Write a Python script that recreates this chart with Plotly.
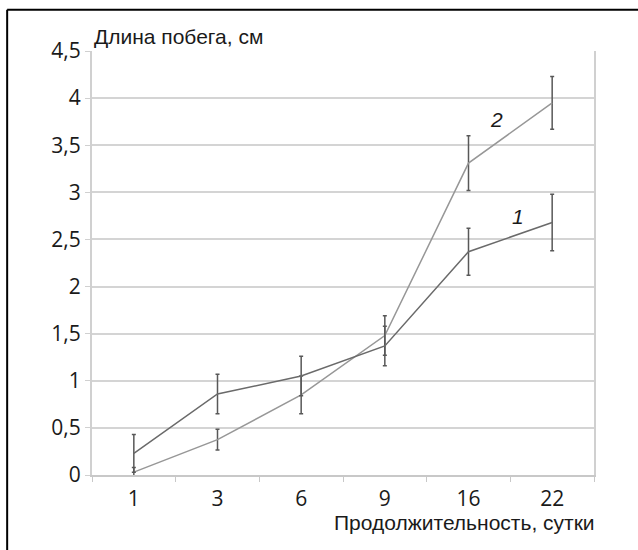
import plotly.graph_objects as go

days = ["1", "3", "6", "9", "16", "22"]
series1 = [0.23, 0.86, 1.05, 1.37, 2.37, 2.68]
err1 = [0.20, 0.21, 0.21, 0.21, 0.25, 0.30]
series2 = [0.03, 0.375, 0.85, 1.48, 3.31, 3.95]
err2 = [0.05, 0.11, 0.20, 0.21, 0.29, 0.28]
y_ticks = [0, 0.5, 1, 1.5, 2, 2.5, 3, 3.5, 4, 4.5]
y_labels = ["0", "0,5", "1", "1,5", "2", "2,5", "3", "3,5", "4", "4,5"]

fig = go.Figure()
fig.add_trace(go.Scatter(
    x=days, y=series2, mode="lines",
    line=dict(color="#979797", width=1.5),
    error_y=dict(type="data", array=err2, color="#585858", thickness=1.5, width=2),
    showlegend=False, hoverinfo="skip"))
fig.add_trace(go.Scatter(
    x=days, y=series1, mode="lines",
    line=dict(color="#6a6a6a", width=1.5),
    error_y=dict(type="data", array=err1, color="#585858", thickness=1.5, width=2),
    showlegend=False, hoverinfo="skip"))

fig.update_layout(
    width=638, height=550,
    margin=dict(l=92, r=44, t=51, b=75),
    paper_bgcolor="white", plot_bgcolor="white",
    font=dict(family="Open Sans", size=20, color="#1a1a1a"),
    xaxis=dict(type="category", tickson="boundaries", ticks="outside", ticklen=5,
               tickcolor="#c8c8c8", showgrid=False, showline=True, linecolor="#c8c8c8",
               linewidth=2, mirror=False, tickfont=dict(size=21, family="Open Sans", color="#1a1a1a"),
               ticklabelstandoff=4, zeroline=False, range=[-0.5, 5.5]),
    yaxis=dict(range=[0, 4.5], tickvals=y_ticks, ticktext=y_labels, ticks="outside",
               ticklen=5, tickcolor="#d0d0d0", showgrid=True, gridcolor="#d4d4d4", gridwidth=2,
               showline=True, linecolor="#d0d0d0", linewidth=2, mirror=True,
               zeroline=False, tickfont=dict(size=21, family="Open Sans", color="#1a1a1a")),
    annotations=[
        dict(text="Длина побега, см", xref="paper", yref="paper", x=0, y=1,
             xanchor="left", yanchor="bottom", yshift=1, showarrow=False,
             font=dict(family="Liberation Sans", size=21, color="#1a1a1a")),
        dict(text="Продолжительность, сутки", xref="paper", yref="paper", x=1.005, y=0,
             xanchor="right", yanchor="top", yshift=-34, showarrow=False,
             font=dict(family="Liberation Sans", size=21, color="#1a1a1a")),
        dict(text="<i>2</i>", x=4.34, y=3.77, showarrow=False,
             font=dict(family="Liberation Sans", size=21, color="#1a1a1a")),
        dict(text="<i>1</i>", x=4.59, y=2.74, showarrow=False,
             font=dict(family="Liberation Sans", size=21, color="#1a1a1a")),
    ],
    shapes=[
        dict(type="line", xref="paper", yref="paper", x0=-0.169, x1=1.2, y0=1.097, y1=1.097,
             line=dict(color="black", width=2)),
        dict(type="line", xref="paper", yref="paper", x0=-0.169, x1=-0.169, y0=1.097, y1=-0.25,
             line=dict(color="black", width=2)),
    ],
)

fig.write_html("out.html")
